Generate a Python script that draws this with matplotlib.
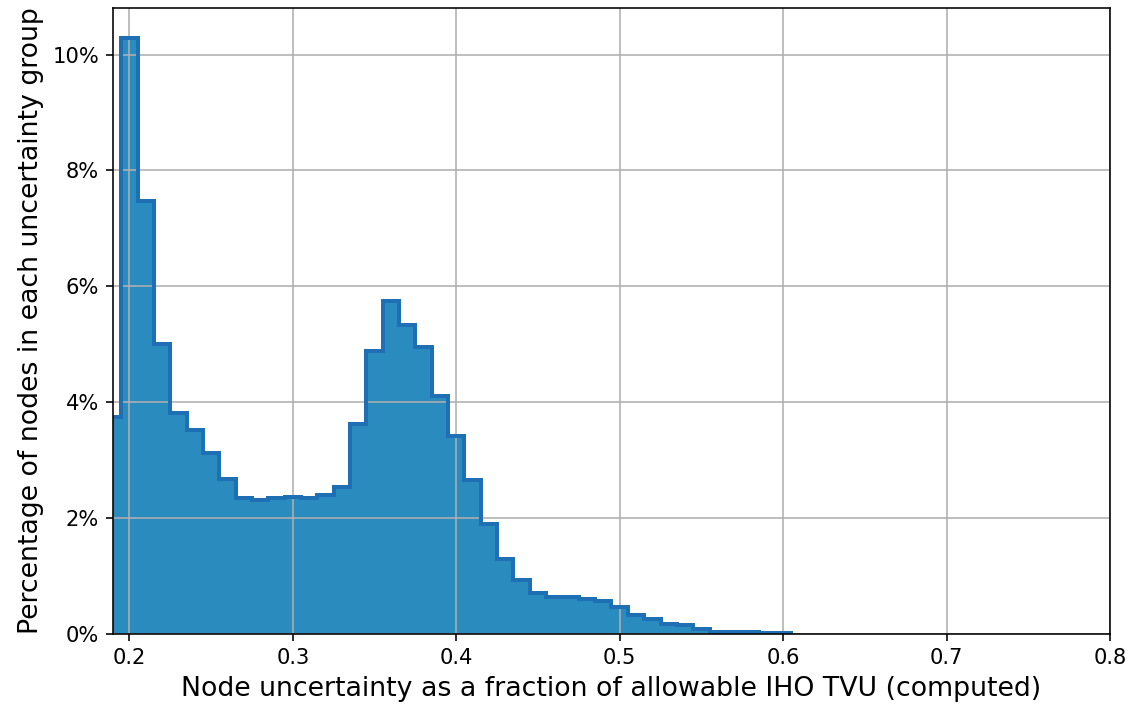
import numpy as np
import matplotlib
matplotlib.use("Agg")
import matplotlib.pyplot as plt
from matplotlib.ticker import PercentFormatter

# Bin edges (fraction of allowable IHO TVU), width 0.01
bin_start = 0.185
bin_width = 0.01
# Percentage of nodes in each bin
percent = [3.75, 10.29, 7.47, 5.01, 3.82, 3.52, 3.12, 2.67, 2.35, 2.31, 2.35,
           2.37, 2.34, 2.40, 2.54, 3.62, 4.89, 5.75, 5.33, 4.95, 4.10, 3.42,
           2.66, 1.90, 1.30, 0.94, 0.71, 0.63, 0.63, 0.61, 0.57, 0.46, 0.32,
           0.26, 0.18, 0.15, 0.09, 0.04, 0.03, 0.03, 0.02, 0.02]
edges = bin_start + bin_width * np.arange(len(percent) + 1)

xticks = [0.2, 0.3, 0.4, 0.5, 0.6, 0.7, 0.8]
yticks = [0, 2, 4, 6, 8, 10]

dpi = 144
fig = plt.figure(figsize=(1133 / dpi, 715 / dpi), dpi=dpi)
ax = fig.add_axes([113 / 1133, 1 - 634 / 715, (1110 - 113) / 1133, (634 - 8) / 715])

ax.stairs(percent, edges, fill=True, color="#2a8bbf", zorder=1, linewidth=0)
ax.stairs(percent, edges, color="#1f6fb4", linewidth=2, zorder=2)

ax.set_axisbelow("line")
ax.grid(True, color="#b0b0b0", linewidth=0.8)
ax.set_xlim(0.19, 0.8)
ax.set_ylim(0, max(percent) * 1.05)
ax.set_xticks(xticks)
ax.set_yticks(yticks)
ax.yaxis.set_major_formatter(PercentFormatter(100, decimals=0))
ax.tick_params(labelsize=10.5)
ax.set_xlabel("Node uncertainty as a fraction of allowable IHO TVU (computed)", fontsize=13.4)
ax.set_ylabel("Percentage of nodes in each uncertainty group", fontsize=13.4)

fig.savefig("out.png", dpi=dpi)
